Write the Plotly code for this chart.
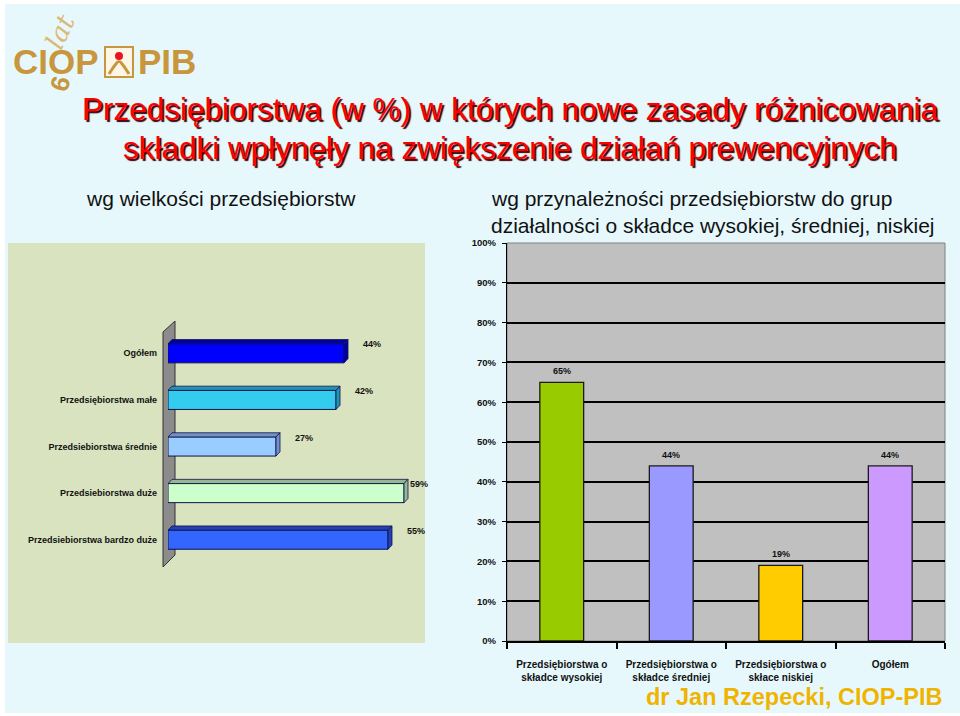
import plotly.graph_objects as go

# ---------------- data ----------------
size_categories = ["Ogółem", "Przedsiębiorstwa małe", "Przedsiebiorstwa średnie",
                   "Przedsiebiorstwa duże", "Przedsiebiorstwa bardzo duże"]
size_values = [44, 42, 27, 59, 55]
size_colors = ["#0000ff", "#33ccee", "#99ccff", "#ccffcc", "#3366ff"]
size_side_colors = ["#0000a8", "#1f95b3", "#6f93c4", "#94b894", "#2142b0"]

group_categories = ["Przedsiębiorstwa o<br>składce wysokiej",
                    "Przedsiębiorstwa o<br>składce średniej",
                    "Przedsiębiorstwa o<br>skłace niskiej",
                    "Ogółem"]
group_values = [65, 44, 19, 44]
group_colors = ["#99cc00", "#9999ff", "#ffcc00", "#cc99ff"]

title_lines = ["Przedsiębiorstwa (w %) w których nowe zasady różnicowania",
               "składki wpłynęły na zwiększenie działań prewencyjnych"]
subtitle_left = "wg wielkości przedsiębiorstw"
subtitle_right = ["wg przynależności przedsiębiorstw do grup",
                  "działalności o składce wysokiej, średniej, niskiej"]
footer = "dr Jan Rzepecki, CIOP-PIB"

W, H = 960, 716
def px(x):
    return x / W
def py(y):
    return 1 - y / H

NARROW = "Liberation Sans, Arial, sans-serif"
SANS = "Liberation Sans, Arial, sans-serif"

fig = go.Figure()

# left chart: horizontal bars
ypos = list(range(len(size_categories)))
fig.add_trace(go.Bar(
    x=size_values, y=ypos, orientation="h", width=0.41,
    marker=dict(color=size_colors, line=dict(color="#10104a", width=1)),
    xaxis="x", yaxis="y", hoverinfo="skip", showlegend=False,
))

# right chart: vertical bars
fig.add_trace(go.Bar(
    x=group_categories, y=group_values, width=0.4,
    marker=dict(color=group_colors, line=dict(color="#1a1a1a", width=1.3)),
    xaxis="x2", yaxis="y2", hoverinfo="skip", showlegend=False,
))

shapes = []
# slide background
shapes.append(dict(type="rect", xref="paper", yref="paper", x0=px(5), x1=px(960),
                   y0=py(713), y1=py(4), fillcolor="#e6f8fc", line=dict(width=0), layer="below"))
# left panel
shapes.append(dict(type="rect", xref="paper", yref="paper", x0=px(8), x1=px(425),
                   y0=py(643), y1=py(243), fillcolor="#d9e3bf", line=dict(width=0), layer="below"))
# right plot area
shapes.append(dict(type="rect", xref="x2 domain", yref="y2 domain", x0=0, x1=1, y0=0, y1=1,
                   fillcolor="#c0c0c0", line=dict(color="#808080", width=1), layer="below"))
# left 3D wall
wall = "M {},{} L {},{} L {},{} L {},{} Z".format(px(163), py(332), px(175), py(321),
                                                 px(175), py(555), px(163), py(567))
shapes.append(dict(type="path", xref="paper", yref="paper", path=wall,
                   fillcolor="#8c8c8c", line=dict(color="#333333", width=1), layer="below"))

# 3D faces of left bars (from data)
h = 0.205
dx = 1.0
dy = 0.09
for i, (v, c, sc) in enumerate(zip(size_values, size_colors, size_side_colors)):
    top = "M 0,{a} L {dx},{b} L {vx},{b} L {v},{a} Z".format(a=i - h, b=i - h - dy, dx=dx, vx=v + dx, v=v)
    side = "M {v},{a} L {vx},{b} L {vx},{c} L {v},{d} Z".format(v=v, vx=v + dx, a=i - h, b=i - h - dy,
                                                               c=i + h - dy, d=i + h)
    shapes.append(dict(type="path", xref="x", yref="y", path=top, fillcolor=sc,
                       line=dict(color="#10104a", width=0.8)))
    shapes.append(dict(type="path", xref="x", yref="y", path=side, fillcolor=sc,
                       line=dict(color="#10104a", width=0.8)))

# logo box
shapes.append(dict(type="rect", xref="paper", yref="paper", x0=px(105), x1=px(133), y0=py(77), y1=py(47),
                   fillcolor="#fdf6e6", line=dict(color="#c8963c", width=2)))
shapes.append(dict(type="circle", xref="paper", yref="paper", x0=px(115), x1=px(123), y0=py(60), y1=py(52),
                   fillcolor="#e8141c", line=dict(width=0)))
shapes.append(dict(type="path", xref="paper", yref="paper",
                   path="M {},{} Q {},{} {},{} Q {},{} {},{}".format(px(109), py(74), px(119), py(58), px(119), py(63),
                                                                     px(119), py(58), px(129), py(74)),
                   line=dict(color="#c8963c", width=3)))

annotations = []
ann_font = dict(family=NARROW, size=9, color="#111111", weight="bold")
for i, v in enumerate(size_values):
    annotations.append(dict(x=min(v + 4.2, 60.0), y=i, xref="x", yref="y", text=f"{v}%",
                            showarrow=False, xanchor="left", yanchor="middle", yshift=9, font=ann_font))
for c, v in zip(group_categories, group_values):
    annotations.append(dict(x=c, y=v, xref="x2", yref="y2", text=f"{v}%",
                            showarrow=False, xanchor="center", yanchor="bottom", yshift=4, font=ann_font))

# title
for k, line in enumerate(title_lines):
    annotations.append(dict(x=px(510), y=py(109 + 39 * k), xref="paper", yref="paper", text=line,
                            showarrow=False, xanchor="center", yanchor="middle",
                            font=dict(family=SANS, size=31.5, color="#ff0000", shadow="2px 2px 1px #3a0000")))
annotations.append(dict(x=px(84), y=py(198), xref="paper", yref="paper", text=subtitle_left,
                        showarrow=False, xanchor="left", yanchor="middle",
                        font=dict(family=SANS, size=21, color="#111111")))
for k, line in enumerate(subtitle_right):
    annotations.append(dict(x=px(489), y=py(198 + 27 * k), xref="paper", yref="paper", text=line,
                            showarrow=False, xanchor="left", yanchor="middle",
                            font=dict(family=SANS, size=21, color="#111111")))
annotations.append(dict(x=px(944), y=py(697), xref="paper", yref="paper", text=footer,
                        showarrow=False, xanchor="right", yanchor="middle",
                        font=dict(family=SANS, size=23.5, color="#f0b400", weight="bold")))
# logo text
annotations.append(dict(x=px(56), y=py(62), xref="paper", yref="paper", text="CIOP", showarrow=False,
                        xanchor="center", yanchor="middle",
                        font=dict(family=SANS, size=35, color="#c8963c", weight="bold")))
annotations.append(dict(x=px(167), y=py(62), xref="paper", yref="paper", text="PIB", showarrow=False,
                        xanchor="center", yanchor="middle",
                        font=dict(family=SANS, size=35, color="#c8963c", weight="bold")))
annotations.append(dict(x=px(60), y=py(84), xref="paper", yref="paper", text="6", showarrow=False,
                        textangle=-75, xanchor="center", yanchor="middle",
                        font=dict(family=SANS, size=26, color="#c8963c", weight="bold")))
annotations.append(dict(x=px(60), y=py(32), xref="paper", yref="paper", text="lat", showarrow=False,
                        textangle=-65, xanchor="center", yanchor="middle",
                        font=dict(family="DejaVu Serif, serif", size=26, color="#dcb878", style="italic")))

fig.update_layout(
    width=W, height=H, margin=dict(l=0, r=0, t=0, b=0, autoexpand=False),
    paper_bgcolor="#ffffff", plot_bgcolor="rgba(0,0,0,0)",
    bargap=0.6, showlegend=False,
    shapes=shapes, annotations=annotations,
    xaxis=dict(domain=[px(168), px(424)], range=[0, 64], visible=False, fixedrange=True, automargin=False),
    yaxis=dict(domain=[py(563), py(330)], range=[4.5, -0.5], tickvals=ypos, ticktext=size_categories,
               showgrid=False, zeroline=False, showline=False, ticks="", ticklabelstandoff=10,
               automargin=False,
               tickfont=dict(family=NARROW, size=9, color="#111111", weight="bold"), anchor="x"),
    xaxis2=dict(domain=[px(507), px(945)], anchor="y2", showgrid=False, showline=True,
                linecolor="#000000", linewidth=1.5, ticks="outside", tickson="boundaries", ticklen=6,
                tickcolor="#000000", tickwidth=1.5, ticklabelstandoff=13, tickangle=0, automargin=False,
                tickfont=dict(family=NARROW, size=10, color="#111111", weight="bold")),
    yaxis2=dict(domain=[py(641), py(243)], anchor="x2", range=[0, 100], dtick=10, ticksuffix="%",
                showgrid=True, gridcolor="#000000", gridwidth=1.5, zeroline=False, automargin=False,
                showline=True, linecolor="#000000", linewidth=1.2, ticks="outside", ticklen=4,
                tickcolor="#000000", ticklabelstandoff=4,
                tickfont=dict(family=NARROW, size=9.5, color="#111111", weight="bold")),
)

fig.write_html("out.html")
